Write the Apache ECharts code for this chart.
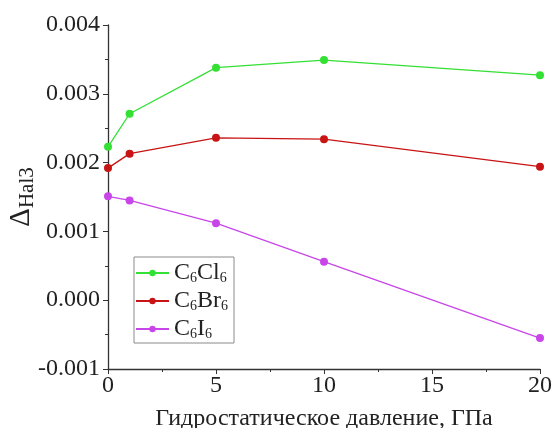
<!DOCTYPE html>
<html>
<head>
<meta charset="utf-8">
<script src="https://cdn.jsdelivr.net/npm/echarts@6/dist/echarts.min.js"></script>
<style>
  html, body { margin: 0; padding: 0; background: #fff; }
  #chart { width: 555px; height: 428px; }
</style>
</head>
<body>
<div id="chart"></div>
<script>
const pressure = [0, 1, 5, 10, 20]
const c6cl6 = [0.00223, 0.00271, 0.00338, 0.00349, 0.00327]
const c6br6 = [0.00192, 0.00213, 0.00236, 0.00234, 0.00194]
const c6i6 = [0.00151, 0.00145, 0.00112, 0.00056, -0.00055]

const names = ['C6Cl6', 'C6Br6', 'C6I6']
const labels = {
  C6Cl6: 'C{s|6}Cl{s|6}',
  C6Br6: 'C{s|6}Br{s|6}',
  C6I6: 'C{s|6}I{s|6}'
}
const colors = ['#33e033', '#c81414', '#c846e8']

const font = 'Liberation Serif'
const pair = arr => pressure.map((p, i) => [p, arr[i]])

const chart = echarts.init(document.getElementById('chart'))

chart.setOption({
  animation: false,
  backgroundColor: '#fff',
  grid: { left: 108, right: 15, top: 25, bottom: 59, containLabel: false, outerBoundsMode: 'none' },
  legend: {
    orient: 'vertical',
    left: 134,
    top: 257,
    data: names,
    borderColor: '#8a8a8a',
    borderWidth: 1,
    padding: [4, 6, 2, 1],
    itemWidth: 33,
    itemHeight: 8,
    itemGap: 4,
    formatter: n => labels[n],
    textStyle: {
      fontFamily: font,
      fontSize: 24,
      color: '#222',
      rich: {
        s: { fontFamily: font, fontSize: 14, color: '#222', verticalAlign: 'bottom', padding: [10, 0, 0, 0] }
      }
    }
  },
  xAxis: {
    type: 'value',
    min: 0,
    max: 20,
    interval: 5,
    name: 'Гидростатическое давление, ГПа',
    nameLocation: 'middle',
    nameGap: 38,
    nameMoveOverlap: false,
    nameTextStyle: { fontFamily: font, fontSize: 24, color: '#222' },
    axisLine: { onZero: false, lineStyle: { color: '#333', width: 1.3 } },
    axisTick: { inside: false, length: 5, lineStyle: { color: '#333' } },
    minorTick: { show: true, splitNumber: 2, length: 3, lineStyle: { color: '#333' } },
    axisLabel: { fontFamily: font, fontSize: 24, color: '#222', margin: 5 },
    splitLine: { show: false }
  },
  yAxis: {
    type: 'value',
    min: -0.001,
    max: 0.004,
    interval: 0.001,
    name: 'Δ{s|Hal3}',
    nameLocation: 'middle',
    nameRotate: 90,
    nameGap: 70,
    nameMoveOverlap: false,
    nameTextStyle: {
      fontFamily: font,
      fontSize: 29,
      color: '#222',
      rich: {
        s: { fontFamily: font, fontSize: 21, color: '#222', verticalAlign: 'bottom', padding: [12, 0, 0, 0] }
      }
    },
    axisLine: { show: true, onZero: false, lineStyle: { color: '#333', width: 1.3 } },
    axisTick: { inside: false, length: 5, lineStyle: { color: '#333' } },
    minorTick: { show: true, splitNumber: 2, length: 3, lineStyle: { color: '#333' } },
    axisLabel: {
      fontFamily: font,
      fontSize: 24,
      color: '#222',
      margin: 8,
      formatter: v => v.toFixed(3)
    },
    splitLine: { show: false }
  },
  series: [c6cl6, c6br6, c6i6].map((arr, i) => ({
    name: names[i],
    type: 'line',
    data: pair(arr),
    symbol: 'circle',
    symbolSize: 8,
    color: colors[i],
    lineStyle: { width: 1.3, color: colors[i] },
    itemStyle: { color: colors[i] }
  }))
})
</script>
</body>
</html>
